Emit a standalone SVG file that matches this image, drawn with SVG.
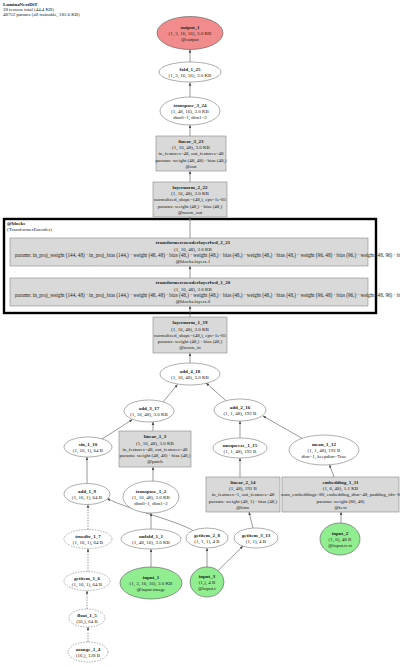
<svg xmlns="http://www.w3.org/2000/svg" width="400" height="666" viewBox="0 0 400 666">
<style>
text{font-family:"Liberation Serif","Times New Roman",serif;font-size:5px;fill:#222}
.c{text-anchor:middle}
.b{font-weight:bold}
.hdr{font-size:4.9px}
.wide{font-size:5.2px}
.el{fill:#fff;stroke:#777;stroke-width:0.6}
.dsh{fill:#fff;stroke:#777;stroke-width:0.6;stroke-dasharray:1.5,1.2}
.bx{fill:#d9d9d9;stroke:#888;stroke-width:0.6}
.out{fill:#f28c8c;stroke:#555;stroke-width:0.6}
.inp{fill:#90ee90;stroke:#555;stroke-width:0.6}
.e{fill:none;stroke:#555;stroke-width:0.6;marker-end:url(#ah)}
.ed{fill:none;stroke:#555;stroke-width:0.6;stroke-dasharray:1.5,1.2;marker-end:url(#ah)}
.cl{fill:none;stroke:#000;stroke-width:2.4}
</style>
<defs>
<marker id="ah" viewBox="0 0 10 10" refX="10" refY="5" markerWidth="3.2" markerHeight="3.2" orient="auto" markerUnits="userSpaceOnUse"><path d="M0,1 L10,5 L0,9 z" fill="#444"/></marker>
</defs>
<rect width="400" height="666" fill="#fff"/>
<g id="header">
<text class="b hdr" x="3" y="5.5">LuminaNextDiT</text>
<text class="hdr" x="3" y="10.5">28 tensors total (44.4 KB)</text>
<text class="hdr" x="3" y="15.5">48752 params (all trainable, 182.6 KB)</text>
</g>
<g id="cluster_blocks">
<rect class="cl" x="4" y="219" width="372" height="94"/>
<text class="b" x="7" y="224.5">@blocks</text>
<text x="7" y="230.5">(TransformerEncoder)</text>
</g>
<g id="connectors">
<path class="e" d="M190,62 L190,49.5"/>
<path class="e" d="M190,97 L190,82.5"/>
<path class="e" d="M190,136 L190,125"/>
<path class="e" d="M190,182 L190,171"/>
<path class="e" d="M190,238 L190,217"/>
<path class="e" d="M190,278 L190,266"/>
<path class="e" d="M190,317 L190,306"/>
<path class="e" d="M190,363 L190,353"/>
<path class="e" d="M163,402 L177.5,384.5"/>
<path class="e" d="M226,400.7 L206,383"/>
<path class="e" d="M102,439 L132.5,419.5"/>
<path class="e" d="M153,431 L153,421.8"/>
<path class="e" d="M240,438 L240,421"/>
<path class="e" d="M302,438.3 L263,416"/>
<path class="e" d="M240,477 L240,458"/>
<path class="e" d="M334,477 L329.5,464.7"/>
<path class="e" d="M87,483.5 L87,457"/>
<path class="e" d="M153,481 L153,467"/>
<path class="ed" d="M88,529.5 L88,504.5"/>
<path class="e" d="M151,529 L151,513"/>
<path class="e" d="M193,530.5 C175,520 130,510 107,498.5"/>
<path class="e" d="M253,528.3 L249,512"/>
<path class="e" d="M341,523 L341,512"/>
<path class="ed" d="M88,571.5 L88,548.5"/>
<path class="e" d="M151,567 L151,549"/>
<path class="e" d="M207,567 L207,548"/>
<path class="e" d="M218,570.6 L243,546"/>
<path class="ed" d="M87,609 L87,590.5"/>
<path class="ed" d="M88,642 L88,627"/>
</g>
<g id="output_1">
<ellipse class="out" cx="190" cy="33" rx="33" ry="16.5"/>
<text class="c b" x="190" y="28.5">output_1</text>
<text class="c" x="190" y="34.8">(1, 3, 16, 16), 3.0 KB</text>
<text class="c" x="190" y="41.1">@output</text>
</g>
<g id="fold_1_25">
<ellipse class="el" cx="190" cy="72" rx="31" ry="10"/>
<text class="c b" x="190" y="70.7">fold_1_25</text>
<text class="c" x="190" y="77">(1, 3, 16, 16), 3.0 KB</text>
</g>
<g id="transpose_3_24">
<ellipse class="el" cx="190" cy="111" rx="30" ry="14"/>
<text class="c b" x="190" y="106.5">transpose_3_24</text>
<text class="c" x="190" y="112.8">(1, 48, 16), 3.0 KB</text>
<text class="c" x="190" y="119.1">dim0=1, dim1=2</text>
</g>
<g id="linear_3_23">
<rect class="bx" x="156" y="136" width="70" height="35"/>
<text class="c b" x="191" y="142.7">linear_3_23</text>
<text class="c" x="191" y="149">(1, 16, 48), 3.0 KB</text>
<text class="c" x="191" y="155.3">in_features=48, out_features=48</text>
<text class="c" x="191" y="161.6">params: weight (48, 48) · bias (48,)</text>
<text class="c" x="191" y="167.9">@out</text>
</g>
<g id="layernorm_2_22">
<rect class="bx" x="153" y="182" width="74" height="35"/>
<text class="c b" x="190" y="188.7">layernorm_2_22</text>
<text class="c" x="190" y="195">(1, 16, 48), 3.0 KB</text>
<text class="c" x="190" y="201.3">normalized_shape=(48,), eps=1e-05</text>
<text class="c" x="190" y="207.6">params: weight (48,) · bias (48,)</text>
<text class="c" x="190" y="213.9">@norm_out</text>
</g>
<g id="transformerencoderlayerfwd_2_21">
<rect class="bx" x="10" y="238" width="358" height="28"/>
<text class="c b" x="193" y="244.4">transformerencoderlayerfwd_2_21</text>
<text class="c" x="193" y="250.7">(1, 16, 48), 3.0 KB</text>
<text class="wide" x="15" y="257">params: in_proj_weight (144, 48) · in_proj_bias (144,) · weight (48, 48) · bias (48,) · weight (48,) · bias (48,) · weight (48,) · bias (48,) · weight (96, 48) · bias (96,) · weight (48, 96) · bias (48,)</text>
<text class="c" x="193" y="263.3">@blocks.layers.1</text>
</g>
<g id="transformerencoderlayerfwd_1_20">
<rect class="bx" x="10" y="278" width="358" height="28"/>
<text class="c b" x="193" y="284.4">transformerencoderlayerfwd_1_20</text>
<text class="c" x="193" y="290.7">(1, 16, 48), 3.0 KB</text>
<text class="wide" x="15" y="297">params: in_proj_weight (144, 48) · in_proj_bias (144,) · weight (48, 48) · bias (48,) · weight (48,) · bias (48,) · weight (48,) · bias (48,) · weight (96, 48) · bias (96,) · weight (48, 96) · bias (48,)</text>
<text class="c" x="193" y="303.3">@blocks.layers.0</text>
</g>
<g id="layernorm_1_19">
<rect class="bx" x="153" y="317" width="74" height="36"/>
<text class="c b" x="190" y="324.2">layernorm_1_19</text>
<text class="c" x="190" y="330.5">(1, 16, 48), 3.0 KB</text>
<text class="c" x="190" y="336.8">normalized_shape=(48,), eps=1e-05</text>
<text class="c" x="190" y="343.1">params: weight (48,) · bias (48,)</text>
<text class="c" x="190" y="349.4">@norm_in</text>
</g>
<g id="add_4_18">
<ellipse class="el" cx="190" cy="374" rx="30" ry="11"/>
<text class="c b" x="190" y="372.7">add_4_18</text>
<text class="c" x="190" y="379">(1, 16, 48), 3.0 KB</text>
</g>
<g id="add_3_17">
<ellipse class="el" cx="149" cy="411" rx="25" ry="11"/>
<text class="c b" x="149" y="409.7">add_3_17</text>
<text class="c" x="149" y="416">(1, 16, 48), 3.0 KB</text>
</g>
<g id="add_2_16">
<ellipse class="el" cx="240" cy="410" rx="26" ry="11"/>
<text class="c b" x="240" y="408.7">add_2_16</text>
<text class="c" x="240" y="415">(1, 1, 48), 192 B</text>
</g>
<g id="sin_1_10">
<ellipse class="el" cx="88" cy="447" rx="24" ry="10"/>
<text class="c b" x="88" y="445.7">sin_1_10</text>
<text class="c" x="88" y="452">(1, 16, 1), 64 B</text>
</g>
<g id="linear_1_3">
<rect class="bx" x="119" y="431" width="72" height="36"/>
<text class="c b" x="155" y="438.2">linear_1_3</text>
<text class="c" x="155" y="444.5">(1, 16, 48), 3.0 KB</text>
<text class="c" x="155" y="450.8">in_features=48, out_features=48</text>
<text class="c" x="155" y="457.1">params: weight (48, 48) · bias (48,)</text>
<text class="c" x="155" y="463.4">@patch</text>
</g>
<g id="unsqueeze_1_15">
<ellipse class="el" cx="240" cy="448" rx="27" ry="10"/>
<text class="c b" x="240" y="446.7">unsqueeze_1_15</text>
<text class="c" x="240" y="453">(1, 1, 48), 192 B</text>
</g>
<g id="mean_1_12">
<ellipse class="el" cx="324" cy="450" rx="35" ry="15"/>
<text class="c b" x="324" y="445.5">mean_1_12</text>
<text class="c" x="324" y="451.8">(1, 1, 48), 192 B</text>
<text class="c" x="324" y="458.1">dim=1, keepdim=True</text>
</g>
<g id="add_1_9">
<ellipse class="el" cx="87" cy="494" rx="23" ry="10.5"/>
<text class="c b" x="87" y="492.7">add_1_9</text>
<text class="c" x="87" y="499">(1, 16, 1), 64 B</text>
</g>
<g id="transpose_1_2">
<ellipse class="el" cx="151" cy="497" rx="28" ry="16"/>
<text class="c b" x="151" y="492.5">transpose_1_2</text>
<text class="c" x="151" y="498.8">(1, 16, 48), 3.0 KB</text>
<text class="c" x="151" y="505.1">dim0=1, dim1=2</text>
</g>
<g id="linear_2_14">
<rect class="bx" x="206" y="477" width="74" height="35"/>
<text class="c b" x="243" y="483.7">linear_2_14</text>
<text class="c" x="243" y="490">(1, 48), 192 B</text>
<text class="c" x="243" y="496.3">in_features=1, out_features=48</text>
<text class="c" x="243" y="502.6">params: weight (48, 1) · bias (48,)</text>
<text class="c" x="243" y="508.9">@time</text>
</g>
<g id="embedding_1_11">
<rect class="bx" x="282" y="477" width="117" height="35"/>
<text class="c b" x="340.5" y="483.7">embedding_1_11</text>
<text class="c" x="340.5" y="490">(1, 6, 48), 1.1 KB</text>
<text class="c" x="340.5" y="496.3">num_embeddings=80, embedding_dim=48, padding_idx=0</text>
<text class="c" x="340.5" y="502.6">params: weight (80, 48)</text>
<text class="c" x="340.5" y="508.9">@text</text>
</g>
<g id="truediv_1_7">
<ellipse class="dsh" cx="88" cy="539" rx="24" ry="9.5"/>
<text class="c b" x="88" y="537.7">truediv_1_7</text>
<text class="c" x="88" y="544">(1, 16, 1), 64 B</text>
</g>
<g id="unfold_1_1">
<ellipse class="el" cx="151" cy="539" rx="30" ry="10"/>
<text class="c b" x="151" y="537.7">unfold_1_1</text>
<text class="c" x="151" y="544">(1, 48, 16), 3.0 KB</text>
</g>
<g id="getitem_2_8">
<ellipse class="el" cx="207" cy="538" rx="21" ry="10"/>
<text class="c b" x="207" y="536.7">getitem_2_8</text>
<text class="c" x="207" y="543">(1, 1, 1), 4 B</text>
</g>
<g id="getitem_3_13">
<ellipse class="el" cx="256" cy="538" rx="22" ry="10"/>
<text class="c b" x="256" y="536.7">getitem_3_13</text>
<text class="c" x="256" y="543">(1, 1), 4 B</text>
</g>
<g id="input_2">
<ellipse class="inp" cx="340" cy="539" rx="20" ry="16"/>
<text class="c b" x="340" y="534.5">input_2</text>
<text class="c" x="340" y="540.8">(1, 6), 48 B</text>
<text class="c" x="340" y="547.1">@input.text</text>
</g>
<g id="getitem_1_6">
<ellipse class="dsh" cx="87" cy="581" rx="23" ry="9.5"/>
<text class="c b" x="87" y="579.7">getitem_1_6</text>
<text class="c" x="87" y="586">(1, 16, 1), 64 B</text>
</g>
<g id="input_1">
<ellipse class="inp" cx="151" cy="583" rx="31" ry="16"/>
<text class="c b" x="151" y="578.5">input_1</text>
<text class="c" x="151" y="584.8">(1, 3, 16, 16), 3.0 KB</text>
<text class="c" x="151" y="591.1">@input.image</text>
</g>
<g id="input_3">
<ellipse class="inp" cx="207" cy="582" rx="17" ry="15"/>
<text class="c b" x="207" y="577.5">input_3</text>
<text class="c" x="207" y="583.8">(1,), 4 B</text>
<text class="c" x="207" y="590.1">@input.t</text>
</g>
<g id="float_1_5">
<ellipse class="dsh" cx="87" cy="618" rx="18" ry="9"/>
<text class="c b" x="87" y="616.7">float_1_5</text>
<text class="c" x="87" y="623">(16,), 64 B</text>
</g>
<g id="arange_1_4">
<ellipse class="dsh" cx="88" cy="652" rx="20" ry="10"/>
<text class="c b" x="88" y="650.7">arange_1_4</text>
<text class="c" x="88" y="657">(16,), 128 B</text>
</g>
</svg>
